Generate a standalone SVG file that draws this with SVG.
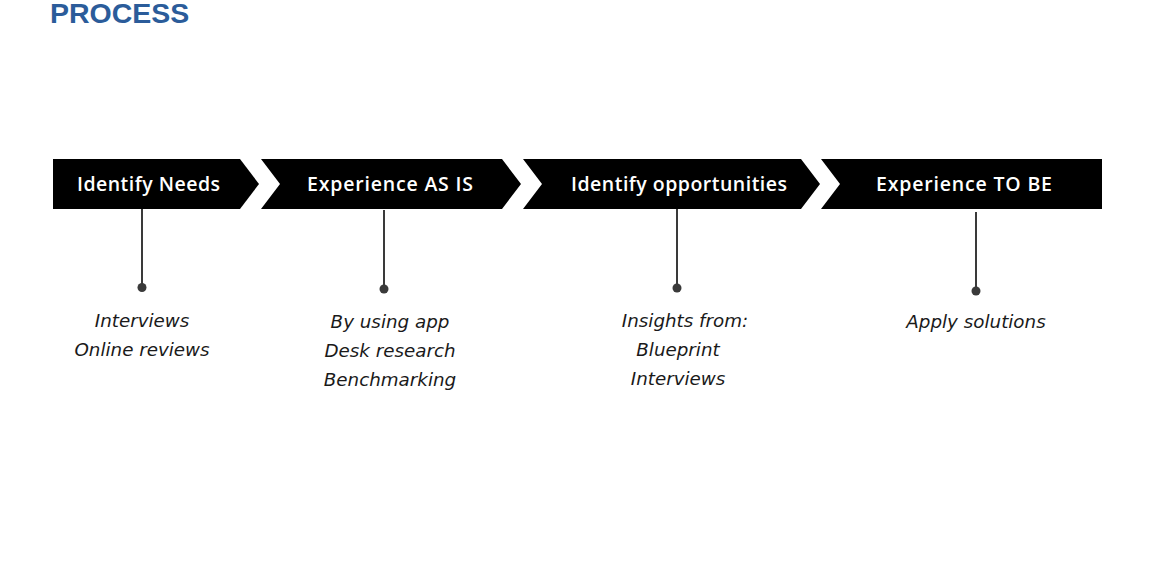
<svg xmlns="http://www.w3.org/2000/svg" width="1152" height="576" viewBox="0 0 1152 576">
<style>
.bg{fill:#ffffff}
.title{font-family:"Liberation Sans",Arial,sans-serif;font-weight:bold;font-size:28.5px;fill:#2b5c9a}
.step{fill:#000000}
.stxt{font-family:"Open Sans","Liberation Sans",sans-serif;font-weight:600;font-size:19.5px;fill:#ffffff;text-anchor:middle}
.conn line{stroke:#3a3a3a;stroke-width:2}
.conn circle{fill:#3a3a3a}
.lbl{font-family:"DejaVu Sans","Liberation Sans",sans-serif;font-style:italic;font-size:18.3px;fill:#1a1a1a;text-anchor:middle}
</style>
<rect class="bg" x="0" y="0" width="1152" height="576"/>
<text class="title" x="50" y="23">PROCESS</text>
<g id="step1">
<path class="step" d="M53,159 H240 L259,184 L240,209 H53 Z"/>
<text class="stxt" x="148.5" y="191" textLength="143" lengthAdjust="spacing">Identify Needs</text>
</g>
<g id="step2">
<path class="step" d="M261,159 H502 L521,184 L502,209 H261 L280,184 Z"/>
<text class="stxt" x="390" y="191" textLength="166" lengthAdjust="spacing">Experience AS IS</text>
</g>
<g id="step3">
<path class="step" d="M523,159 H801 L820,184 L801,209 H523 L542,184 Z"/>
<text class="stxt" x="679" y="191" textLength="216" lengthAdjust="spacing">Identify opportunities</text>
</g>
<g id="step4">
<path class="step" d="M821,159 H1102 V209 H821 L840,184 Z"/>
<text class="stxt" x="964" y="191" textLength="176" lengthAdjust="spacing">Experience TO BE</text>
</g>
<g id="connectors" class="conn">
<line x1="142" y1="209" x2="142" y2="287"/>
<circle cx="142" cy="287.5" r="4.5"/>
<line x1="384" y1="210" x2="384" y2="289"/>
<circle cx="384" cy="289" r="4.5"/>
<line x1="677" y1="209" x2="677" y2="288"/>
<circle cx="677" cy="288" r="4.5"/>
<line x1="976" y1="212" x2="976" y2="291"/>
<circle cx="976" cy="291" r="4.5"/>
</g>
<g id="label1">
<text class="lbl" x="142" y="327">Interviews</text>
<text class="lbl" x="142" y="356">Online reviews</text>
</g>
<g id="label2">
<text class="lbl" x="390" y="328">By using app</text>
<text class="lbl" x="390" y="357">Desk research</text>
<text class="lbl" x="390" y="386">Benchmarking</text>
</g>
<g id="label3">
<text class="lbl" x="685" y="327">Insights from:</text>
<text class="lbl" x="678" y="356">Blueprint</text>
<text class="lbl" x="678" y="385">Interviews</text>
</g>
<g id="label4">
<text class="lbl" x="976" y="328">Apply solutions</text>
</g>
</svg>
